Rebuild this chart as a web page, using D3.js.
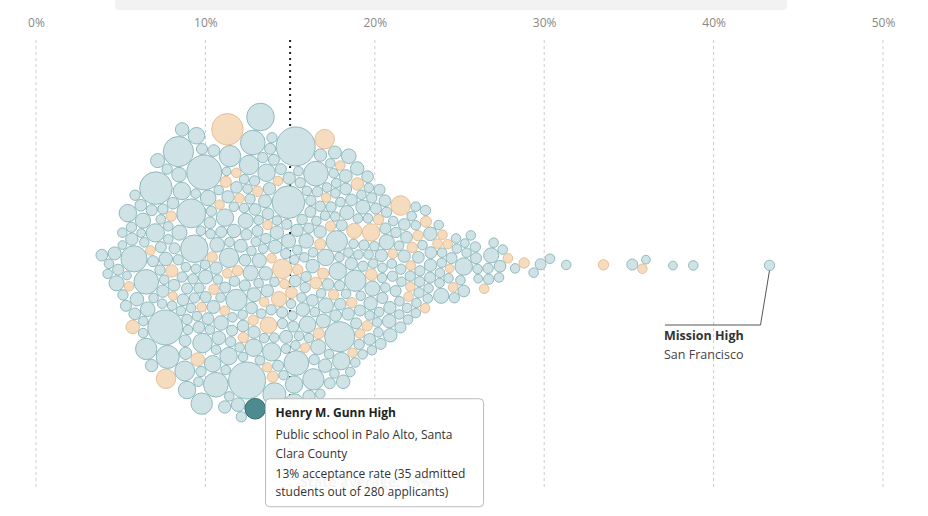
<!DOCTYPE html>
<html><head><meta charset="utf-8">
<script src="https://cdn.jsdelivr.net/npm/d3@7"></script>
<style>body{margin:0;background:#fff;font-family:"Open Sans","Noto Sans",sans-serif}</style>
</head><body><svg id="c" width="928" height="516"></svg>
<script>
const tickValues=[0,10,20,30,40,50];
const stateAverage=15;
const rates=[4.0,4.5,4.9,5.2,5.5,5.8,6.0,6.1,
6.3,6.4,6.6,6.7,6.9,7.0,7.1,7.2,7.4,7.5,7.5,7.7,7.8,7.9,8.0,6.8,7.3,7.6,
8.1,8.2,8.2,8.3,8.4,8.5,8.6,8.6,8.7,8.8,8.9,9.0,9.0,9.1,9.2,9.3,9.4,9.5,9.5,9.6,9.7,9.8,9.9,9.9,8.8,9.3,
10.0,10.1,10.1,10.2,10.3,10.4,10.4,10.5,10.6,10.7,10.7,10.8,10.9,11.0,11.0,11.1,11.2,11.3,11.3,11.4,11.5,11.6,11.6,11.7,11.8,11.9,11.9,10.5,11.2,10.8,11.5,10.2,
12.0,12.1,12.1,12.2,12.3,12.4,12.4,12.5,12.6,12.7,12.7,12.8,12.9,13.0,13.0,13.1,13.2,13.3,13.3,13.4,13.5,13.6,13.6,13.7,13.8,13.9,13.9,12.3,12.9,13.4,12.6,13.8,12.2,13.1,
14.0,14.1,14.1,14.2,14.3,14.4,14.4,14.5,14.6,14.7,14.7,14.8,14.9,15.0,15.0,15.1,15.2,15.3,15.3,15.4,15.5,15.6,15.6,15.7,15.8,15.9,15.9,14.3,14.9,15.4,14.6,15.8,14.2,15.1,
16.0,16.1,16.2,16.3,16.4,16.5,16.6,16.7,16.8,16.9,17.0,17.1,17.2,17.3,17.4,17.5,17.6,17.7,17.8,17.9,16.3,16.8,17.2,17.6,16.1,17.0,17.9,16.6,17.4,16.9,
18.0,18.2,18.3,18.5,18.6,18.8,18.9,19.1,19.2,19.4,19.5,19.7,19.8,19.9,18.4,18.7,19.0,19.3,19.6,18.1,19.8,18.9,19.2,18.5,
20.0,20.3,20.5,20.8,21.0,21.2,21.5,21.7,21.9,20.2,20.6,21.1,21.4,21.8,20.9,21.3,20.4,21.6,
22.1,22.4,22.7,23.0,23.3,23.6,23.9,22.2,22.9,23.5,22.5,23.8,
24.1,24.5,24.9,25.2,25.6,25.9,24.3,25.0,24.7,
26.2,26.6,27.0,27.4,27.8,26.9,27.5,
28.3,28.8,29.4,
29.8,30.3,31.3,33.5,35.2,35.8,36.0,37.6,38.8,43.3];
const applicants=[90,60,150,70,110,50,200,80,
120,60,450,90,70,300,60,140,80,700,100,60,220,90,130,50,400,80,
60,250,90,800,70,120,60,350,100,50,180,600,80,70,140,90,260,60,120,550,80,70,300,60,100,200,
500,70,130,60,90,250,60,800,110,70,180,60,90,400,70,140,60,100,300,50,80,650,120,60,200,90,70,160,60,100,250,80,
80,60,300,120,70,900,60,100,150,70,250,60,90,500,80,60,130,70,400,60,100,200,80,60,350,70,120,60,180,90,60,220,70,110,
60,150,80,70,700,60,100,250,80,60,130,70,400,60,90,1000,70,120,60,200,80,60,300,100,70,60,150,80,60,180,70,90,120,60,
70,400,60,100,80,180,60,130,70,300,60,90,110,60,600,70,80,200,60,100,250,70,60,140,80,90,60,120,70,60,
60,80,300,70,60,130,90,60,200,70,60,100,80,60,150,70,90,60,120,60,80,70,60,100,
80,60,120,70,250,60,90,60,70,150,60,80,100,60,70,60,90,60,
70,60,120,60,80,60,150,60,70,60,90,60,
60,80,60,200,60,70,60,90,60,
60,70,60,90,60,150,60,
60,70,60,
80,60,60,70,80,60,50,50,60,70];
const privateIdx=[9,27,35,44,50,61,66,73,80,88,95,101,107,112,119,125,131,138,142,149,156,160,167,172,178,185,190,196,201,205,210,214,219,224,229,233,238,242,249,253,258,260];
const rates2=[4.3,5.0,5.6,6.2,6.5,6.9,7.2,7.4,7.7,7.9,5.3,6.7,7.1,7.8,
8.0,8.2,8.3,8.5,8.7,8.8,9.0,9.1,9.3,9.4,9.6,9.7,9.8,8.4,8.9,9.2,9.5,9.9,8.6,9.1,
10.0,10.2,10.3,10.5,10.6,10.8,10.9,11.1,11.2,11.4,11.5,11.7,11.8,10.1,10.4,10.7,11.0,11.3,11.6,11.9,10.3,10.9,11.4,11.8,
12.0,12.2,12.3,12.5,12.6,12.8,12.9,13.1,13.2,13.4,13.5,13.7,13.8,12.1,12.4,12.7,13.0,13.3,13.6,13.9,12.2,12.8,13.5,13.2,12.6,13.9,
14.0,14.2,14.3,14.5,14.6,14.8,14.9,15.1,15.2,15.4,15.5,15.7,15.8,14.1,14.4,14.7,15.0,15.3,15.6,15.9,14.2,14.8,15.5,15.2,14.6,15.9,
16.0,16.2,16.3,16.5,16.6,16.8,16.9,17.1,17.2,17.4,17.5,17.7,17.8,16.1,16.4,16.7,17.0,17.3,17.6,17.9,16.2,16.8,17.5,17.1,
18.0,18.2,18.3,18.5,18.6,18.8,18.9,19.1,19.2,19.4,19.5,19.7,19.8,18.1,18.4,18.7,19.0,19.3,19.6,19.9,18.6,19.4,
20.0,20.2,20.4,20.6,20.8,21.0,21.2,21.4,21.6,21.8,20.1,20.5,20.9,21.3,21.7,20.3,21.1,21.9,
22.0,22.3,22.6,22.8,23.1,23.4,23.7,22.1,22.5,22.9,23.2,23.6,23.9,22.4,
24.0,24.4,24.8,25.1,25.5,25.8,26.1,26.5,26.8,27.2,24.6,25.3];
const applicants2=[60,80,60,120,70,60,90,150,60,70,50,100,60,80,
70,60,100,60,150,70,60,90,60,200,70,60,80,60,120,60,70,60,90,60,
60,90,70,60,120,60,80,60,200,70,60,100,60,70,60,140,60,80,60,90,60,70,60,110,
70,60,90,60,150,70,60,80,60,120,60,70,60,90,60,200,70,60,100,60,80,60,70,60,130,60,
60,80,60,110,70,60,90,60,250,60,70,60,100,80,60,70,60,140,60,90,60,70,120,60,80,60,
70,60,100,60,80,60,150,70,60,90,60,120,60,70,60,80,60,200,60,90,70,60,110,60,
60,80,60,120,70,60,90,60,60,150,60,70,80,60,100,60,70,60,90,60,130,60,
60,70,60,100,60,80,60,90,60,70,60,120,60,70,60,80,60,60,
60,70,60,80,60,90,60,60,70,60,100,60,60,70,
60,50,70,60,60,80,50,60,70,60,60,50];
const privateIdx2=[3,12,19,25,31,40,46,52,58,63,70,77,84,90,97,104,111,118,125,131,138,145,152,158,164,170,177,183,189,195];
const highlight={name:"Henry M. Gunn High",rate:12.5,applicants:280,
 lines:["Public school in Palo Alto, Santa","Clara County","13% acceptance rate (35 admitted","students out of 280 applicants)"]};
const labelled={name:"Mission High",place:"San Francisco"};

const svg=d3.select("#c");
const x=d3.scaleLinear().domain([0,50]).range([36,883]);
const r=d3.scaleSqrt().domain([0,1000]).range([0,19.5]);
const cy=265;
svg.append("rect").attr("x",115).attr("y",-6).attr("width",672).attr("height",16).attr("rx",4).attr("fill","#f2f2f2");
const ax=svg.append("g").attr("transform","translate(0,26)").call(d3.axisTop(x).tickValues(tickValues).tickFormat(d=>d+"%").tickSize(0));
ax.select(".domain").remove();
ax.selectAll("text").attr("fill","#888").attr("font-size",12).attr("font-family","Open Sans").attr("dy","0.32em");
svg.append("g").selectAll("line").data(tickValues).join("line")
 .attr("x1",d=>x(d)).attr("x2",d=>x(d)).attr("y1",40).attr("y2",490)
 .attr("stroke","#ccc").attr("stroke-dasharray","3,3");

function build(rs,as,pi){const p=new Set(pi);const m=Math.min(rs.length,as.length);
 return d3.range(m).map(i=>({rate:rs[i],app:as[i],priv:p.has(i),r:r(as[i])}));}
const nodes=build(rates,applicants,privateIdx).concat(build(rates2,applicants2,privateIdx2));
nodes.sort((a,b)=>a.rate-b.rate);
const hl={rate:highlight.rate,app:highlight.applicants,priv:false,r:r(highlight.applicants),hl:true};
nodes.forEach((d,i)=>{d.x=x(d.rate);d.y=cy+((i*37)%41-20);});
hl.x=x(hl.rate);hl.y=cy+100;
nodes.push(hl);
const sim=d3.forceSimulation(nodes)
 .force("x",d3.forceX(d=>x(d.rate)).strength(0.8))
 .force("y",d3.forceY(cy).strength(0.05))
 .force("c",d3.forceCollide(d=>d.r+0.3).iterations(4)).stop();
for(let i=0;i<450;i++)sim.tick();

svg.append("line").attr("x1",x(stateAverage)).attr("x2",x(stateAverage)).attr("y1",40).attr("y2",492)
 .attr("stroke","#222").attr("stroke-width",2).attr("stroke-dasharray","2,4");
svg.append("g").selectAll("circle").data(nodes.filter(d=>!d.hl)).join("circle")
 .attr("cx",d=>d.x).attr("cy",d=>d.y).attr("r",d=>d.r)
 .attr("fill",d=>d.priv?"#f6dcbf":"#cfe3e6").attr("stroke",d=>d.priv?"#e3b98c":"#86b3b8").attr("stroke-width",0.9);
svg.append("circle").attr("cx",hl.x).attr("cy",hl.y).attr("r",hl.r).attr("fill","#4e8b90").attr("stroke","#2f6b70");

svg.append("text").attr("x",x(stateAverage)+10).attr("y",487).attr("font-weight","bold").attr("font-size",14).attr("fill","#333").text("State average: 15%");

const mh=nodes.reduce((a,b)=>b.rate>a.rate?b:a);
svg.append("path").attr("d",`M${mh.x},${mh.y+mh.r} L${mh.x-9},325 L665,325`).attr("fill","none").attr("stroke","#555");
svg.append("text").attr("x",664).attr("y",340).attr("font-weight","bold").attr("font-size",12.5).attr("fill","#333").text(labelled.name);
svg.append("text").attr("x",664).attr("y",359).attr("font-size",12.5).attr("fill","#444").text(labelled.place);

const tx=hl.x+hl.r, ty=hl.y-10;
const tg=svg.append("g").attr("transform",`translate(${tx},${ty})`);
tg.append("rect").attr("width",218).attr("height",108).attr("rx",4).attr("fill","#fff").attr("fill-opacity",0.95).attr("stroke","#bbb");
tg.append("text").attr("x",10).attr("y",18).attr("font-weight","bold").attr("font-size",12).attr("fill","#222").text(highlight.name);
[40,59,79,97].forEach((yy,i)=>tg.append("text").attr("x",10).attr("y",yy).attr("font-size",12).attr("fill","#333").text(highlight.lines[i]));
</script></body></html>
